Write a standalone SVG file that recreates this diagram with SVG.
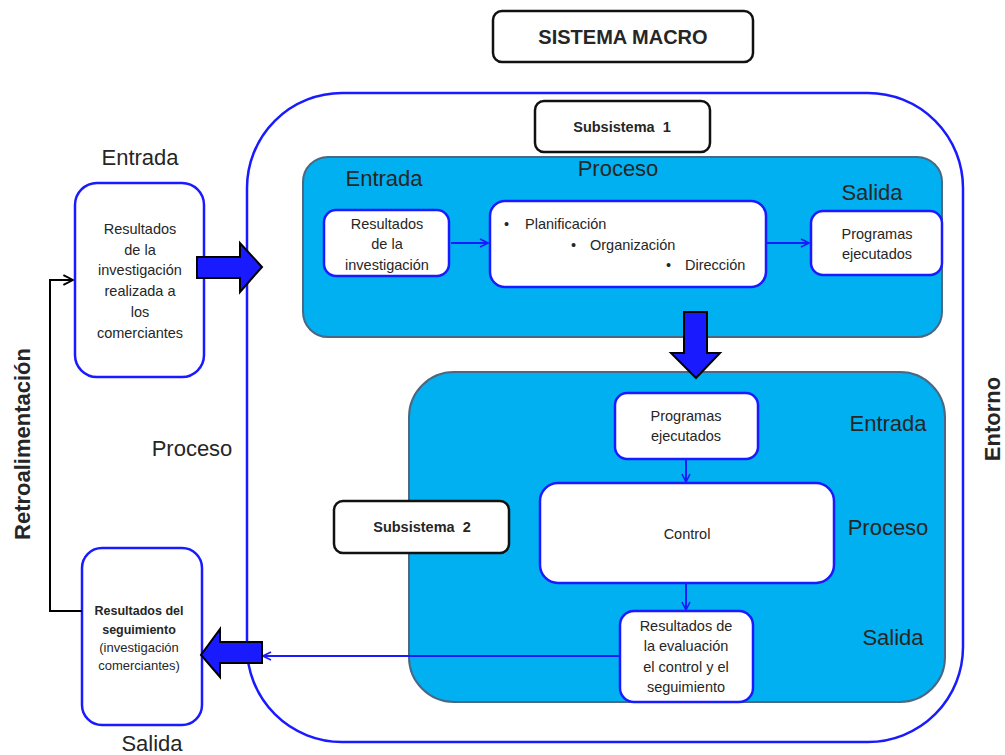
<svg xmlns="http://www.w3.org/2000/svg" width="1005" height="755" viewBox="0 0 1005 755">
<defs>
<style>
text{font-family:"Liberation Sans",Arial,sans-serif;fill:#262626}
.lbl{font-size:22px;text-anchor:middle}
.sm{font-size:14.5px;text-anchor:middle}
.bul{font-size:14.5px}
.bold{font-weight:bold}
.wbox{fill:#fff;stroke:#1a1aff;stroke-width:2.5}
.kbox{fill:#fff;stroke:#111;stroke-width:2.5}
.sub{fill:#00B0F0;stroke:#4a6883;stroke-width:2}
.conn{fill:none;stroke:#1a1aff;stroke-width:2}
.blk{fill:#1a1aff;stroke:#000;stroke-width:2;stroke-linejoin:miter}
</style>
<marker id="ab" viewBox="0 0 10 10" refX="9" refY="5" markerWidth="10" markerHeight="10" markerUnits="userSpaceOnUse" orient="auto">
<path d="M1,1 L9,5 L1,9" fill="none" stroke="#1a1aff" stroke-width="1.6"/>
</marker>
<marker id="ak" viewBox="0 0 10 10" refX="9" refY="5" markerWidth="12" markerHeight="12" markerUnits="userSpaceOnUse" orient="auto">
<path d="M1,1 L9,5 L1,9" fill="none" stroke="#000" stroke-width="1.6"/>
</marker>
</defs>
<rect width="1005" height="755" fill="#fff"/>

<g id="sistema-macro">
<rect x="493" y="11" width="260" height="51" rx="9" class="kbox"/>
<text x="623" y="44" class="lbl bold" style="font-size:20px">SISTEMA MACRO</text>
</g>

<g id="entorno">
<rect x="247" y="93" width="716" height="649" rx="95" fill="none" stroke="#1a1aff" stroke-width="2.5"/>
<text transform="translate(1000,419) rotate(-90)" class="lbl bold">Entorno</text>
</g>

<g id="subsistema1">
<rect x="303" y="157" width="639" height="180" rx="25" class="sub"/>
<text x="384" y="186" class="lbl">Entrada</text>
<text x="618" y="176" class="lbl">Proceso</text>
<text x="872" y="200" class="lbl">Salida</text>
</g>

<g id="subsistema1-label">
<rect x="535" y="101" width="175" height="51" rx="9" class="kbox"/>
<text x="622" y="132" class="sm bold" style="font-size:14.5px;white-space:pre">Subsistema  1</text>
</g>

<g id="s1-entrada">
<rect x="324" y="210" width="125" height="66" rx="12" class="wbox"/>
<text x="387" y="229" class="sm">Resultados</text>
<text x="387" y="249" class="sm">de la</text>
<text x="387" y="270" class="sm">investigación</text>
</g>

<g id="s1-proceso">
<rect x="490" y="201" width="276" height="86" rx="15" class="wbox"/>
<text x="504" y="229" class="bul">•</text><text x="525" y="229" class="bul">Planificación</text>
<text x="571" y="250" class="bul">•</text><text x="590" y="250" class="bul">Organización</text>
<text x="666" y="270" class="bul">•</text><text x="685" y="270" class="bul">Dirección</text>
</g>

<g id="s1-salida">
<rect x="811" y="211" width="131" height="64" rx="12" class="wbox"/>
<text x="877" y="239" class="sm">Programas</text>
<text x="877" y="259" class="sm">ejecutados</text>
</g>

<g id="subsistema2">
<rect x="409" y="372" width="536" height="330" rx="45" class="sub"/>
<text x="888" y="431" class="lbl">Entrada</text>
<text x="888" y="535" class="lbl">Proceso</text>
<text x="893" y="645" class="lbl">Salida</text>
</g>

<g id="subsistema2-label">
<rect x="334" y="501" width="175" height="52" rx="9" class="kbox"/>
<text x="422" y="532" class="sm bold" style="font-size:14.5px;white-space:pre">Subsistema  2</text>
</g>

<g id="s2-entrada">
<rect x="615" y="393" width="143" height="66" rx="12" class="wbox"/>
<text x="686" y="421" class="sm">Programas</text>
<text x="686" y="441" class="sm">ejecutados</text>
</g>

<g id="s2-proceso">
<rect x="540" y="483" width="294" height="100" rx="18" class="wbox"/>
<text x="687" y="539" class="sm">Control</text>
</g>

<g id="s2-salida">
<rect x="620" y="611" width="133" height="91" rx="14" class="wbox"/>
<text x="686" y="631" class="sm">Resultados de</text>
<text x="686" y="651" class="sm">la evaluación</text>
<text x="686" y="672" class="sm">el control y el</text>
<text x="686" y="692" class="sm">seguimiento</text>
</g>

<g id="entrada">
<text x="140" y="165" class="lbl">Entrada</text>
<rect x="75" y="183" width="129" height="194" rx="22" class="wbox"/>
<text x="140" y="234" class="sm">Resultados</text>
<text x="140" y="255" class="sm">de la</text>
<text x="140" y="275" class="sm">investigación</text>
<text x="140" y="296" class="sm">realizada a</text>
<text x="140" y="317" class="sm">los</text>
<text x="140" y="338" class="sm">comerciantes</text>
</g>

<g id="salida">
<rect x="82" y="548" width="120" height="177" rx="20" class="wbox"/>
<text x="139" y="615" class="sm bold" style="font-size:12.5px">Resultados del</text>
<text x="139" y="634" class="sm bold" style="font-size:12.5px">seguimiento</text>
<text x="139" y="652" class="sm" style="font-size:13px">(investigación</text>
<text x="139" y="670" class="sm" style="font-size:13px">comerciantes)</text>
<text x="152" y="751" class="lbl">Salida</text>
</g>

<g id="labels">
<text x="192" y="456" class="lbl">Proceso</text>
<text transform="translate(30,444) rotate(-90)" class="lbl bold">Retroalimentación</text>
</g>

<g id="connectors">
<line x1="451" y1="243" x2="488" y2="243" class="conn" marker-end="url(#ab)"/>
<line x1="767" y1="243" x2="809" y2="243" class="conn" marker-end="url(#ab)"/>
<line x1="686" y1="459" x2="686" y2="482" class="conn" marker-end="url(#ab)"/>
<line x1="686" y1="583" x2="686" y2="610" class="conn" marker-end="url(#ab)"/>
<line x1="620" y1="656" x2="263" y2="656" class="conn" marker-end="url(#ab)"/>
<polyline points="82,611 50,611 50,280 73,280" fill="none" stroke="#000" stroke-width="2" marker-end="url(#ak)"/>
<polygon points="197,257 240,257 240,243 262,267 240,292 240,278 197,278" class="blk"/>
<polygon points="262,642 220,642 220,629 201,655 220,677 220,663 262,663" class="blk"/>
<polygon points="684,312 707,312 707,353 720,353 696,378 671,353 684,353" class="blk"/>
</g>
</svg>
